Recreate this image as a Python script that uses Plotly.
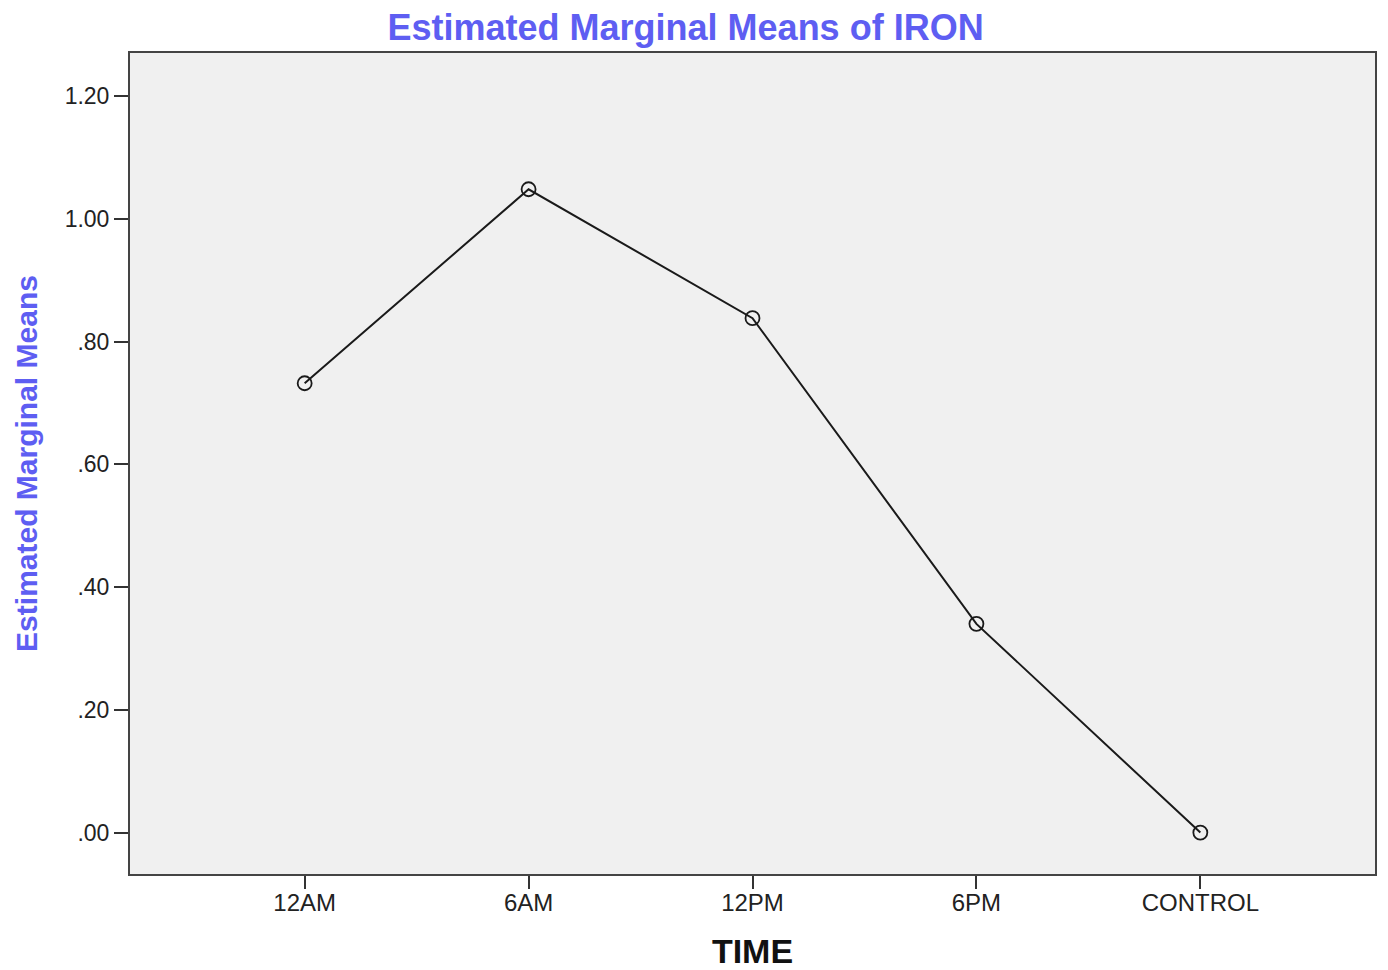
import plotly.graph_objects as go

categories = ["12AM", "6AM", "12PM", "6PM", "CONTROL"]
means = [0.732, 1.048, 0.838, 0.340, 0.0]
y_tick_vals = [0.0, 0.2, 0.4, 0.6, 0.8, 1.0, 1.2]
y_tick_text = [".00", ".20", ".40", ".60", ".80", "1.00", "1.20"]

fig = go.Figure()
fig.add_trace(go.Scatter(
    x=list(range(len(categories))), y=means, mode="lines+markers",
    line=dict(color="#1a1a1a", width=2),
    marker=dict(symbol="circle-open", size=14, color="#1a1a1a", line=dict(width=1.8)),
    showlegend=False,
))

fig.update_layout(
    width=1380, height=962,
    paper_bgcolor="white", plot_bgcolor="#f0f0f0",
    margin=dict(l=122, r=11, t=45, b=96),
    font=dict(family="Liberation Sans, Arial, sans-serif", color="#222"),
    title=dict(text="<b>Estimated Marginal Means of IRON</b>", x=0.491, xanchor="center",
               y=0.98, yanchor="middle",
               font=dict(size=36, color="#5e5ef2", family="Liberation Sans, Arial, sans-serif")),
)
fig.update_xaxes(
    range=[-0.78, 4.78], tickvals=list(range(len(categories))), ticktext=categories,
    ticks="outside", ticklen=13, tickwidth=2, tickcolor="#333",
    ticklabelstandoff=-7, automargin=False,
    showline=True, linecolor="#444", linewidth=2, mirror=True,
    showgrid=False, zeroline=False,
    tickfont=dict(size=24, color="#222"),
    title=dict(text="<b>TIME</b>", font=dict(size=34, color="#111"), standoff=32),
)
fig.update_yaxes(
    range=[-0.0675, 1.27], tickvals=y_tick_vals, ticktext=y_tick_text,
    ticks="outside", ticklen=14, tickwidth=2, tickcolor="#333",
    showline=True, linecolor="#444", linewidth=2, mirror=True,
    showgrid=False, zeroline=False,
    tickfont=dict(size=23, color="#222"),
    title=dict(text="<b>Estimated Marginal Means</b>", font=dict(size=30, color="#5e5ef2"), standoff=18),
)

fig.write_html("out.html")
